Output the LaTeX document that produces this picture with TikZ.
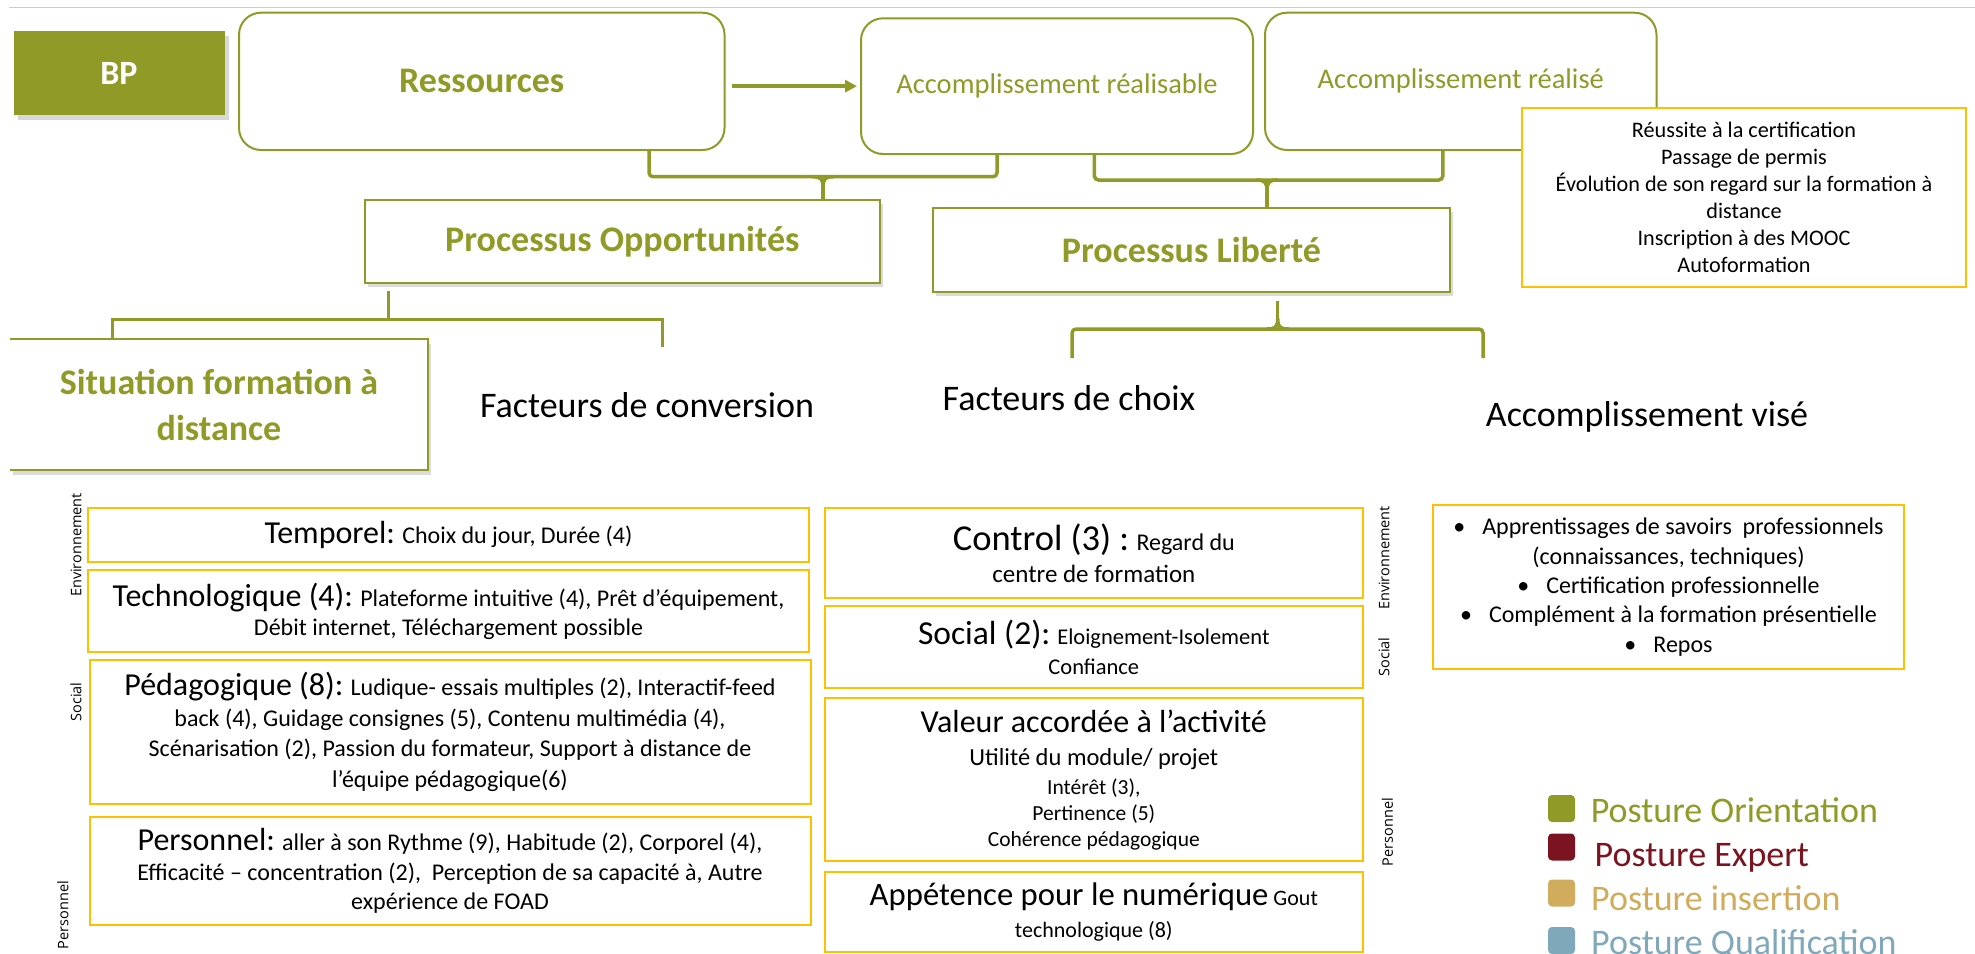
\documentclass[tikz,border=0pt]{standalone}
\usepackage{fontspec}
\setmainfont{Carlito}
\newfontfamily\lblfont{Open Sans}
\usetikzlibrary{shadows,arrows.meta,calc}
\definecolor{oliv}{RGB}{143,155,38}
\definecolor{gold}{RGB}{255,192,0}
\definecolor{lexpert}{RGB}{123,20,32}
\definecolor{linsert}{RGB}{209,172,93}
\definecolor{lqualif}{RGB}{127,168,186}
\newcommand\fs[2]{\fontsize{#1}{#2}\selectfont}
\tikzset{
  rbox/.style={draw=oliv, line width=2pt, rounded corners=22pt, fill=white, inner sep=0pt},
  pbox/.style={draw=oliv, line width=2pt, fill=white, inner sep=0pt,
    drop shadow={shadow xshift=3pt, shadow yshift=-4pt, opacity=0.28}},
  ybox/.style={draw=gold, line width=2pt, fill=white, inner sep=0pt, align=center},
  bracestyle/.style={draw=oliv, line width=3.5pt, rounded corners=4pt},
  elbow/.style={draw=oliv, line width=3pt},
  vlabel/.style={rotate=90, font=\lblfont\fs{14.5}{17}, inner sep=0pt},
  bigolive/.style={text=oliv, font=\bfseries\fs{36}{42}, align=center},
  plain/.style={inner sep=0pt, font=\fs{36}{42}},
  sq/.style={minimum size=27pt, inner sep=0pt, rounded corners=4pt},
  leg/.style={inner sep=0pt, font=\fs{36}{42}, anchor=base west},
  arr/.style={draw=oliv, line width=4pt, -{Triangle[length=12pt,width=12pt]}},
}
\begin{document}
\begin{tikzpicture}[x=1pt,y=-1pt]
\useasboundingbox (0,0) rectangle (1975,953);
\fill[white] (0,0) rectangle (1975,953);
\clip (0,0) rectangle (1975,953);

% top rule
\draw[black!20, line width=1.5pt] (9,7.3) -- (1975,7.3);

% top row
\node[fill=oliv, minimum width=211pt, minimum height=84pt, inner sep=0pt,
  drop shadow={shadow xshift=4pt, shadow yshift=-5pt, opacity=0.3}] (bp) at (119,73)
  {\textcolor{white}{\bfseries\fs{34}{40}BP}};
\node[rbox, minimum width=485.5pt, minimum height=137.3pt] (res) at (481.75,81.35)
  {\textcolor{oliv}{\bfseries\fs{36}{42}Ressources}};
\node[rbox, minimum width=392pt, minimum height=135.7pt] (accr) at (1057,86.15)
  {\textcolor{oliv}{\fs{28.5}{34}Accomplissement réalisable}};
\node[rbox, minimum width=391.5pt, minimum height=137.3pt] (acr) at (1460.75,81.35)
  {\textcolor{oliv}{\fs{28.5}{34}Accomplissement réalisé}};
\node[ybox, minimum width=444pt, minimum height=179pt, font=\fs{22.2}{27}] (real) at (1744,197.8)
  {Réussite à la certification\\Passage de permis\\Évolution de son regard sur la formation à\\distance\\Inscription à des MOOC\\Autoformation};

\draw[arr, shorten <=6.5pt, shorten >=3pt] (res.east |- accr.west) -- (accr.west);

% process boxes
\node[pbox, minimum width=515.3pt, minimum height=83.3pt] (popp) at (622.35,241.65)
  {\textcolor{oliv}{\bfseries\fs{36}{42}Processus Opportunités}};
\node[pbox, minimum width=517pt, minimum height=83.4pt] (plib) at (1191.5,250)
  {\textcolor{oliv}{\bfseries\fs{36}{42}Processus Liberté}};

% brace 1
\coordinate (b1l) at (649,176.7);
\coordinate (b1r) at (997,176.7);
\coordinate (b1m) at (823,176.7);
\draw[bracestyle] (res.south -| b1l) -- (b1l) -- (b1r) -- (accr.south -| b1r);
\draw[draw=oliv, line width=3.5pt] ($(b1m)+(-11,0)$) .. controls +(9,0) and +(0,-9) .. ($(b1m)+(0,11)$)
  .. controls +(0,-9) and +(-9,0) .. ($(b1m)+(11,0)$);
\draw[draw=oliv, line width=3.5pt] ($(b1m)+(0,10)$) -- (popp.north -| b1m);

% brace 2
\coordinate (b2l) at (1094.4,180);
\coordinate (b2r) at (1442.8,180);
\coordinate (b2m) at (1267,180);
\draw[bracestyle] (accr.south -| b2l) -- (b2l) -- (b2r) -- (acr.south -| b2r);
\draw[draw=oliv, line width=3.5pt] ($(b2m)+(-11,0)$) .. controls +(9,0) and +(0,-9) .. ($(b2m)+(0,11)$)
  .. controls +(0,-9) and +(-9,0) .. ($(b2m)+(11,0)$);
\draw[draw=oliv, line width=3.5pt] ($(b2m)+(0,10)$) -- (plib.north -| b2m);

% brace 3 (below Processus Liberte)
\coordinate (b3m) at (1277.7,329);
\coordinate (b3l) at (1072,329);
\coordinate (b3r) at (1483,329);
\coordinate (b3le) at (1072,358);
\coordinate (b3re) at (1483,358);
\draw[draw=oliv, line width=3.5pt] ($(plib.south -| b3m)+(0,8)$) -- ($(b3m)+(0,-10)$);
\draw[draw=oliv, line width=3.5pt] ($(b3m)+(-11,0)$) .. controls +(9,0) and +(0,9) .. ($(b3m)+(0,-11)$)
  .. controls +(0,9) and +(-9,0) .. ($(b3m)+(11,0)$);
\draw[bracestyle] (b3le) -- (b3l) -- (b3r) -- (b3re);

% elbow below Processus Opportunites
\node[fill=white, minimum width=418pt, minimum height=131pt, inner sep=0pt,
  drop shadow={shadow xshift=3pt, shadow yshift=-5pt, opacity=0.28}] (sit) at (219,404.5) {};
\draw[oliv, line width=2pt] (sit.north west) -- (sit.north east) -- (sit.south east) -- (sit.south west);
\node[bigolive, inner sep=0pt] (sittxt) at (sit.center) {Situation formation à\\[4pt]distance};
\coordinate (b4m) at (388,319.3);
\coordinate (b4l) at (112.7,319.3);
\coordinate (b4r) at (662,319.3);
\coordinate (b4re) at (662,346.7);
\draw[elbow] ($(popp.south -| b4m)+(0,7)$) -- (b4m);
\draw[elbow] (sit.north -| b4l) -- (b4l) -- (b4r) -- (b4re);

% column titles
\node[plain] (fconv) at (647,405) {Facteurs de conversion};
\node[plain] (fchoix) at (1069,398) {Facteurs de choix};
\node[plain] (avise) at (1647,417) {Accomplissement visé};

% left column
\node[ybox, minimum width=721pt, minimum height=54pt, font=\fs{24}{29}] (temp) at (448.5,535)
  {{\fs{32}{38}Temporel:} Choix du jour, Durée (4)};
\node[ybox, minimum width=721pt, minimum height=82pt, font=\fs{24}{29}] (tech) at (448.5,611)
  {{\fs{32}{38}Technologique (4):} Plateforme intuitive (4), Prêt d’équipement,\\Débit internet, Téléchargement possible};
\node[ybox, minimum width=721pt, minimum height=144pt, font=\fs{24}{30.5}] (peda) at (450,732)
  {{\fs{32}{38}Pédagogique (8):} Ludique- essais multiples (2), Interactif-feed\\back (4), Guidage consignes (5), Contenu multimédia (4),\\Scénarisation (2), Passion du formateur, Support à distance de\\l’équipe pédagogique(6)};
\node[ybox, minimum width=721pt, minimum height=108pt, font=\fs{24}{29.5}] (pers) at (450,871)
  {{\fs{32}{38}Personnel:} aller à son Rythme (9), Habitude (2), Corporel (4),\\Efficacité – concentration (2),\ \ Perception de sa capacité à, Autre\\expérience de FOAD};

\node[vlabel] (lenv) at (76,545) {Environnement};
\node[vlabel] (lsoc) at (76,702) {Social};
\node[vlabel] (lpers) at (63,915) {Personnel};

% middle column
\node[ybox, minimum width=537.6pt, minimum height=89.7pt, font=\fs{24}{32}] (ctrl) at (1093.8,552.85)
  {{\fs{36.5}{40}Control (3) :} Regard du\\{\fs{25}{30}centre de formation}};
\node[ybox, minimum width=537.6pt, minimum height=82.6pt, font=\fs{22.5}{30}] (soc) at (1093.8,647)
  {{\fs{33.5}{38}Social (2):} Eloignement-Isolement\\Confiance};
\node[ybox, minimum width=537.6pt, minimum height=162.7pt, font=\fs{21.5}{26}] (val) at (1093.8,779.65)
  {{\fs{32}{36}Valeur accordée à l’activité}\\[7pt]{\fs{24.5}{28}Utilité du module/ projet}\\[3pt]Intérêt (3),\\Pertinence (5)\\Cohérence pédagogique};
\node[ybox, minimum width=537.6pt, minimum height=80pt, font=\fs{22}{32}] (app) at (1093.8,911.7)
  {{\fs{32.7}{38}Appétence pour le numérique}\ Gout\\technologique (8)};

\node[vlabel] (renv) at (1384,558) {Environnement};
\node[vlabel] (rsoc) at (1384,657) {Social};
\node[vlabel] (rpers) at (1387.5,832) {Personnel};

% right column
\node[ybox, minimum width=471pt, minimum height=164pt, font=\fs{24}{29.4}] (vis) at (1668.5,587)
  {\textbullet\hspace{17pt}Apprentissages de savoirs\ \ professionnels\\(connaissances, techniques)\\\textbullet\hspace{17pt}Certification professionnelle\\\textbullet\hspace{17pt}Complément à la formation présentielle\\\textbullet\hspace{17pt}Repos};

% legend
\node[sq, fill=oliv] (sq1) at (1561.5,808.5) {};
\node[sq, fill=lexpert] (sq2) at (1561.5,847) {};
\node[sq, fill=linsert] (sq3) at (1561.5,893) {};
\node[sq, fill=lqualif] (sq4) at (1561.5,940.5) {};
\node[leg, text=oliv] (l1) at (1590.6,822.3) {Posture Orientation};
\node[leg, text=lexpert] (l2) at (1594.5,866.7) {Posture Expert};
\node[leg, text=linsert] (l3) at (1591,910) {Posture insertion};
\node[leg, text=lqualif] (l4) at (1591,954) {Posture Qualification};
\end{tikzpicture}
\end{document}
